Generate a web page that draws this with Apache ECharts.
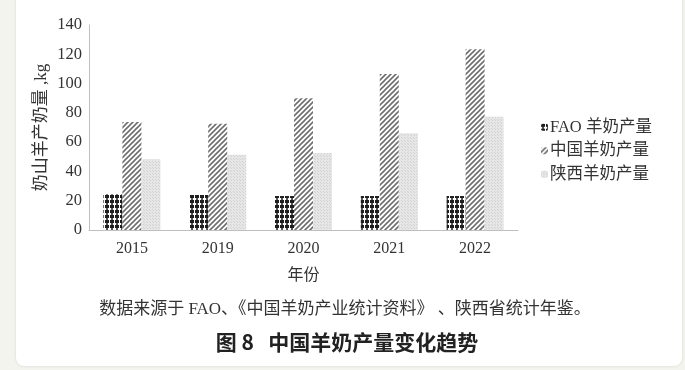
<!DOCTYPE html>
<html><head><meta charset="utf-8">
<script src="https://cdn.jsdelivr.net/npm/echarts@6/dist/echarts.min.js"></script>
<style>html,body{margin:0;padding:0;background:#f4f4ee;}#c{width:685px;height:370px;}</style>
</head><body><div id="c"></div>
<script>
const categories = ['2015', '2019', '2020', '2021', '2022'];
const faoValues = [24.4, 23.9, 23.2, 23.2, 23.2];
const chinaValues = [73.8, 72.6, 90.0, 106.6, 123.4];
const shaanxiValues = [48.3, 51.4, 52.6, 66.0, 77.4];
const seriesNames = ['FAO 羊奶产量', '中国羊奶产量', '陕西羊奶产量'];
const yTicks = {min: 0, max: 140, interval: 20};

function makePattern(kind) {
  const c = document.createElement('canvas');
  const ctx = c.getContext('2d');
  if (kind === 'grid') {
    c.width = 5; c.height = 5;
    ctx.fillStyle = '#ffffff'; ctx.fillRect(0,0,5,5);
    ctx.fillStyle = '#1e1e1e'; ctx.fillRect(0,0,4,3);
    ctx.fillStyle = '#555555'; ctx.fillRect(1,3,2,2);
  } else if (kind === 'hatch') {
    c.width = 5; c.height = 5;
    ctx.fillStyle = '#ffffff'; ctx.fillRect(0,0,5,5);
    ctx.strokeStyle = '#6f6f6f'; ctx.lineWidth = 1.6;
    ctx.beginPath();
    ctx.moveTo(-1,6); ctx.lineTo(6,-1);
    ctx.moveTo(-1,1); ctx.lineTo(1,-1);
    ctx.moveTo(4,6); ctx.lineTo(6,4);
    ctx.stroke();
  } else {
    c.width = 3; c.height = 3;
    ctx.fillStyle = '#e6e6e6'; ctx.fillRect(0,0,3,3);
    ctx.fillStyle = '#d2d2d2'; ctx.fillRect(0,0,1,1);
    ctx.fillRect(2,2,1,1);
  }
  return {image: c, repeat: 'repeat'};
}

const serif = '"Liberation Serif", "Noto Sans CJK SC", serif';
const chart = echarts.init(document.getElementById('c'), null, {renderer: 'canvas'});
chart.setOption({
  backgroundColor: '#f4f4ee',
  animation: false,
  graphic: [{
    type: 'rect', z: -10,
    shape: {x: 16, y: -10, width: 666, height: 376, r: 8},
    style: {fill: '#ffffff', shadowBlur: 3, shadowColor: 'rgba(0,0,0,0.12)'}
  }],
  title: [{
    text: '数据来源于 FAO、《中国羊奶产业统计资料》 、陕西省统计年鉴。',
    left: 340, top: 296, textAlign: 'center',
    textStyle: {fontFamily: serif, fontSize: 17, fontWeight: 'normal', color: '#333'}
  }, {
    text: '图 8   中国羊奶产量变化趋势',
    left: 342, top: 327, textAlign: 'center',
    textStyle: {fontFamily: '"Noto Sans CJK SC", sans-serif', fontSize: 21, fontWeight: 'bold', color: '#222'}
  }],
  legend: {
    orient: 'vertical', left: 536, top: 114, itemGap: 7,
    itemWidth: 7, itemHeight: 7,
    data: seriesNames,
    textStyle: {fontFamily: serif, fontSize: 16.5, color: '#333', padding: [0,0,0,-3]}
  },
  grid: {left: 89, right: 167, top: 25, bottom: 140},
  xAxis: {
    type: 'category', data: categories,
    name: '年份', nameLocation: 'middle', nameGap: 38,
    nameTextStyle: {fontFamily: serif, fontSize: 16, color: '#333'},
    axisLine: {lineStyle: {color: '#bfbfbf'}},
    axisTick: {show: false},
    axisLabel: {fontFamily: serif, fontSize: 16, color: '#333', margin: 11}
  },
  yAxis: {
    type: 'value', min: yTicks.min, max: yTicks.max, interval: yTicks.interval,
    name: '奶山羊产奶量 ,kg', nameLocation: 'middle', nameGap: 39, nameRotate: 90,
    nameMoveOverlap: false,
    nameTextStyle: {fontFamily: serif, fontSize: 17, color: '#333'},
    axisLine: {show: true, lineStyle: {color: '#bfbfbf'}},
    axisTick: {show: false},
    splitLine: {show: false},
    axisLabel: {fontFamily: serif, fontSize: 16.5, color: '#333', margin: 7}
  },
  series: [
    {name: seriesNames[0], type: 'bar', data: faoValues, barWidth: 19, barGap: '0%',
     itemStyle: {color: makePattern('grid')}},
    {name: seriesNames[1], type: 'bar', data: chinaValues, barWidth: 19, barGap: '0%',
     itemStyle: {color: makePattern('hatch')}},
    {name: seriesNames[2], type: 'bar', data: shaanxiValues, barWidth: 19, barGap: '0%',
     itemStyle: {color: makePattern('dots')}}
  ]
});
</script></body></html>
